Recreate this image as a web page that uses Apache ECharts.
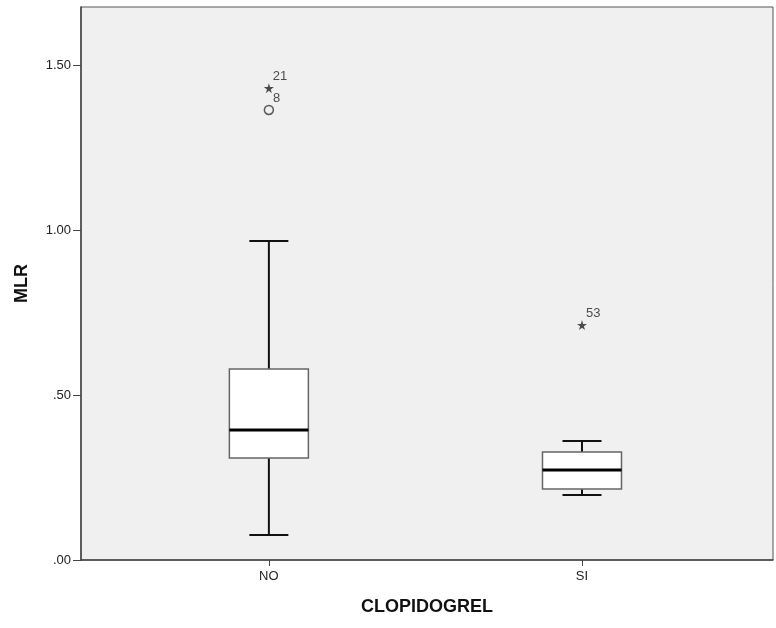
<!DOCTYPE html>
<html>
<head>
<meta charset="utf-8">
<script src="https://cdn.jsdelivr.net/npm/echarts@6/dist/echarts.min.js"></script>
<style>
  html, body { margin: 0; padding: 0; background: #fff; }
  #main { width: 776px; height: 628px; }
</style>
</head>
<body>
<div id="main"></div>
<script>
// categories and box statistics [min, Q1, median, Q3, max]
const categories = ['NO', 'SI'];
const boxData = [
    [0.076, 0.309, 0.394, 0.579, 0.967],
    [0.197, 0.215, 0.273, 0.327, 0.361]
];
// extreme outliers (star) and outliers (circle): [categoryIndex, value, case id]
const extremes = [[0, 1.430, '21'], [1, 0.712, '53']];
const outliers = [[0, 1.364, '8']];
const yTicks = [0, 0.5, 1, 1.5];

const FONT = 'Liberation Sans';
const starPath = 'path://M50,0 L61,35 L98,35 L68,57 L79,91 L50,70 L21,91 L32,57 L2,35 L39,35 Z';

const chart = echarts.init(document.getElementById('main'));

const caseLabel = {
    show: true,
    position: 'right',
    distance: 1,
    offset: [-2, -12],
    formatter: p => p.data[2],
    color: '#222',
    fontSize: 13,
    fontFamily: FONT
};

const option = {
    backgroundColor: '#fff',
    animation: false,
    grid: {
        left: 81,
        top: 7,
        width: 692,
        height: 553,
        show: true,
        backgroundColor: '#f0f0f0',
        borderColor: '#555',
        borderWidth: 1
    },
    xAxis: {
        type: 'value',
        min: -0.6,
        max: 1.61,
        name: 'CLOPIDOGREL',
        nameLocation: 'middle',
        nameGap: 38,
        nameTextStyle: {color: '#111', fontSize: 18, fontWeight: 'bold', fontFamily: FONT},
        splitLine: {show: false},
        axisLine: {show: true, onZero: false, lineStyle: {color: '#444', width: 1.5}},
        axisTick: {show: true, length: 6, lineStyle: {color: '#444'}, customValues: [0, 1]},
        axisLabel: {
            customValues: [0, 1],
            margin: 10,
            color: '#222',
            fontSize: 13,
            fontFamily: FONT,
            formatter: v => categories[Math.round(v)]
        }
    },
    yAxis: {
        type: 'value',
        min: 0,
        max: 1.676,
        name: 'MLR',
        nameLocation: 'middle',
        nameGap: 50,
        nameTextStyle: {color: '#111', fontSize: 18, fontWeight: 'bold', fontFamily: FONT},
        splitLine: {show: false},
        axisLine: {show: true, onZero: false, lineStyle: {color: '#444', width: 1.5}},
        axisTick: {show: true, length: 8, lineStyle: {color: '#444'}, customValues: yTicks},
        axisLabel: {
            customValues: yTicks,
            margin: 10,
            color: '#222',
            fontSize: 13,
            fontFamily: FONT,
            formatter: v => v.toFixed(2).replace(/^0/, '')
        }
    },
    series: [
        {
            type: 'custom',
            data: boxData.map((d, i) => [i].concat(d)),
            encode: {x: 0, y: [1, 2, 3, 4, 5]},
            z: 2,
            renderItem: function (params, api) {
                const i = api.value(0);
                const pMin = api.coord([i, api.value(1)]);
                const pQ1 = api.coord([i, api.value(2)]);
                const pMed = api.coord([i, api.value(3)]);
                const pQ3 = api.coord([i, api.value(4)]);
                const pMax = api.coord([i, api.value(5)]);
                const x = pMed[0];
                const hw = 39.5, cw = 19.5;
                const whisker = {stroke: '#111', lineWidth: 2};
                return {
                    type: 'group',
                    children: [
                        {type: 'line', shape: {x1: x, y1: pMax[1], x2: x, y2: pQ3[1]}, style: whisker},
                        {type: 'line', shape: {x1: x, y1: pMin[1], x2: x, y2: pQ1[1]}, style: whisker},
                        {type: 'line', shape: {x1: x - cw, y1: pMax[1], x2: x + cw, y2: pMax[1]}, style: whisker},
                        {type: 'line', shape: {x1: x - cw, y1: pMin[1], x2: x + cw, y2: pMin[1]}, style: whisker},
                        {
                            type: 'rect',
                            shape: {x: x - hw, y: pQ3[1], width: hw * 2, height: pQ1[1] - pQ3[1]},
                            style: {fill: '#fff', stroke: '#666', lineWidth: 1.5}
                        },
                        {type: 'line', shape: {x1: x - hw, y1: pMed[1], x2: x + hw, y2: pMed[1]}, style: {stroke: '#000', lineWidth: 3}}
                    ]
                };
            }
        },
        {
            type: 'scatter',
            data: extremes,
            symbol: starPath,
            symbolSize: 10,
            itemStyle: {color: '#222'},
            z: 3,
            label: caseLabel
        },
        {
            type: 'scatter',
            data: outliers,
            symbol: 'circle',
            symbolSize: 9,
            itemStyle: {color: 'rgba(0,0,0,0)', borderColor: '#333', borderWidth: 1.5},
            z: 3,
            label: caseLabel
        }
    ]
};

chart.setOption(option);
</script>
</body>
</html>
